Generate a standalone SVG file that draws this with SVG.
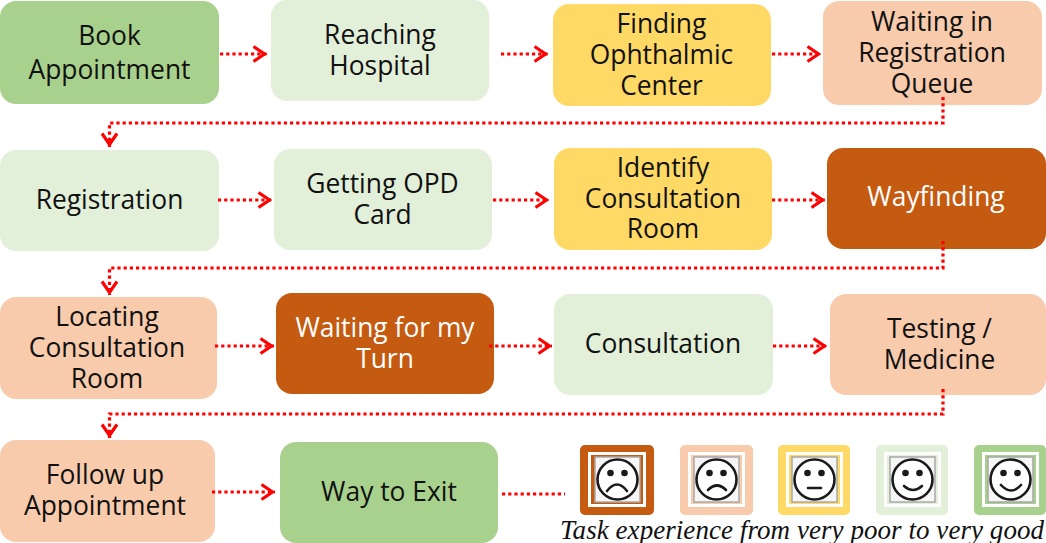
<svg xmlns="http://www.w3.org/2000/svg" width="1046" height="543" viewBox="0 0 1046 543">
<style>
text{font-family:"Open Sans","DejaVu Sans",sans-serif;font-size:26.4px;fill:#111;text-anchor:middle}
.w{fill:#fff}
.g5{fill:#A9D18E}.g4{fill:#E2EFD9}.y{fill:#FFD966}.p{fill:#F8CBAD}.o{fill:#C55A11}
.c{fill:none;stroke:#f00;stroke-width:3.2;stroke-dasharray:3.200 3}
.h{fill:none;stroke:#f00;stroke-width:3.200}
.f{fill:none;stroke:#1a1a1a;stroke-width:2.600;stroke-linecap:round}
.d{fill:#1a1a1a}
.ring{fill:#fff}
.card{fill:#f6f6f6;stroke:#a8a8a8;stroke-width:1.500}
.cap{font-family:"Liberation Serif",serif;font-style:italic;font-size:27px;text-anchor:start}
</style>
<defs>
<marker id="a" markerUnits="userSpaceOnUse" markerWidth="18" markerHeight="20" refX="16.500" refY="10" orient="auto"><path d="M3 2.500L14 10L3 17.500" class="h"/></marker>
<g id="fc"><rect x="-22" y="-23" width="45" height="45" class="card"/><circle r="20" cx="0.500" cy="-0.500" class="f" style="fill:#fff"/><circle cx="-6.500" cy="-7" r="3.300" class="d"/><circle cx="7.500" cy="-7" r="3.300" class="d"/></g>
</defs>
<g id="book"><rect class="g5" x="0" y="1" width="219" height="103" rx="16"/><text x="109.500" y="45">Book</text><text x="109.500" y="79">Appointment</text></g>
<g id="reaching"><rect class="g4" x="271" y="0" width="218" height="101" rx="16"/><text x="380" y="44">Reaching</text><text x="380" y="74.500">Hospital</text></g>
<g id="finding"><rect class="y" x="553" y="4" width="218" height="102" rx="16"/><text x="661.500" y="33">Finding</text><text x="661.500" y="63.500">Ophthalmic</text><text x="661.500" y="94.500">Center</text></g>
<g id="waiting-reg"><rect class="p" x="823" y="1" width="219" height="104" rx="16"/><text x="932" y="31">Waiting in</text><text x="932" y="62">Registration</text><text x="932" y="92.500">Queue</text></g>
<g id="registration"><rect class="g4" x="0" y="150" width="219" height="101" rx="16"/><text x="109.500" y="209">Registration</text></g>
<g id="opd"><rect class="g4" x="274" y="149" width="218" height="101" rx="16"/><text x="382.500" y="193">Getting OPD</text><text x="382.500" y="223.500">Card</text></g>
<g id="identify"><rect class="y" x="554" y="148" width="218" height="102" rx="16"/><text x="663" y="176.500">Identify</text><text x="663" y="207.500">Consultation</text><text x="663" y="238">Room</text></g>
<g id="wayfinding"><rect class="o" x="827" y="148" width="219" height="101" rx="16"/><text class="w" x="936" y="206">Wayfinding</text></g>
<g id="locating"><rect class="p" x="0" y="297" width="217" height="102" rx="16"/><text x="107" y="325.500">Locating</text><text x="107" y="356.500">Consultation</text><text x="107" y="387.500">Room</text></g>
<g id="waiting-turn"><rect class="o" x="276" y="293" width="218" height="101" rx="16"/><text class="w" x="385" y="337">Waiting for my</text><text class="w" x="385" y="367.500">Turn</text></g>
<g id="consultation"><rect class="g4" x="554" y="294" width="219" height="101" rx="16"/><text x="663" y="352.500">Consultation</text></g>
<g id="testing"><rect class="p" x="830" y="294" width="216" height="101" rx="16"/><text x="939.500" y="338">Testing /</text><text x="939.500" y="368.500">Medicine</text></g>
<g id="followup"><rect class="p" x="0" y="440" width="215" height="102" rx="16"/><text x="105" y="484">Follow up</text><text x="105" y="514.500">Appointment</text></g>
<g id="exit"><rect class="g5" x="280" y="442" width="218" height="101" rx="16"/><text x="389" y="500.500">Way to Exit</text></g>
<g id="legend-1"><rect class="o" x="580" y="445" width="74" height="70" rx="5"/><rect class="ring" x="588" y="452" width="58" height="55"/><rect class="o" x="591" y="455" width="52" height="49"/><use href="#fc" x="617" y="480"/><path class="f" d="M607 491Q617 478 627 491"/></g>
<g id="legend-2"><rect class="p" x="680" y="445" width="73" height="70" rx="5"/><rect class="ring" x="688" y="452" width="57" height="55"/><rect class="p" x="691" y="455" width="51" height="49"/><use href="#fc" x="716" y="480"/><path class="f" d="M708 490Q717 481 726 490"/></g>
<g id="legend-3"><rect class="y" x="778" y="445" width="72" height="70" rx="5"/><rect class="ring" x="786" y="452" width="57" height="55"/><rect class="y" x="789" y="455" width="51" height="49"/><use href="#fc" x="814" y="480"/><path class="f" d="M808 488H821"/></g>
<g id="legend-4"><rect class="g4" x="876" y="445" width="72" height="70" rx="5"/><rect class="ring" x="884" y="452" width="57" height="55"/><rect class="g4" x="887" y="455" width="51" height="49"/><use href="#fc" x="912" y="480"/><path class="f" d="M904 486Q913 494 922 486"/></g>
<g id="legend-5"><rect class="g5" x="974" y="445" width="72" height="70" rx="5"/><rect class="ring" x="982" y="452" width="57" height="55"/><rect class="g5" x="985" y="455" width="51" height="49"/><use href="#fc" x="1010" y="480"/><path class="f" d="M1001 485Q1011 496 1021 485"/></g>
<text class="cap" x="560" y="539" textLength="484">Task experience from very poor to very good</text>
<g id="connectors">
<path class="c" marker-end="url(#a)" d="M220 54H267"/>
<path class="c" marker-end="url(#a)" d="M501 54H548"/>
<path class="c" marker-end="url(#a)" d="M772 54H821"/>
<path class="c" marker-end="url(#a)" d="M943 97V123H109.500V147"/>
<path class="c" marker-end="url(#a)" d="M218 200H272"/>
<path class="c" marker-end="url(#a)" d="M493 200H549"/>
<path class="c" marker-end="url(#a)" d="M772 200H825"/>
<path class="c" marker-end="url(#a)" d="M943 241V268H109.500V295"/>
<path class="c" marker-end="url(#a)" d="M215 346H274"/>
<path class="c" marker-end="url(#a)" d="M489 346H552"/>
<path class="c" marker-end="url(#a)" d="M773 346H827"/>
<path class="c" marker-end="url(#a)" d="M943 389V414H109.500V438"/>
<path class="c" marker-end="url(#a)" d="M212 492H275"/>
<path class="c" d="M502 494H565"/>
</g>
</svg>
